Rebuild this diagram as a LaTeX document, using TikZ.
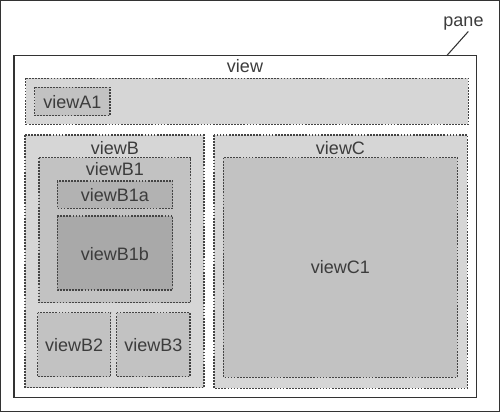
\documentclass[tikz,border=0pt]{standalone}
\usepackage{fontspec}
\setmainfont{Liberation Sans}
\definecolor{linegray}{HTML}{333333}
\definecolor{dashgray}{HTML}{444444}
\definecolor{textgray}{HTML}{3C3C3C}
\definecolor{shadeA}{HTML}{D6D6D6}
\definecolor{shadeB}{HTML}{C2C2C2}
\definecolor{shadeC}{HTML}{B2B2B2}
\definecolor{shadeD}{HTML}{A9A9A9}
\begin{document}
\begin{tikzpicture}[x=0.75pt,y=-0.75pt,
  box/.style={draw=dashgray, line width=0.8pt, dash pattern=on 1.3pt off 1pt},
  lbl/.style={text=textgray, font=\fontsize{13.5}{16}\selectfont, inner sep=0pt, anchor=base}]
\useasboundingbox (0,0) rectangle (500,412);

% frame and view
\draw[linegray, line width=1pt] (0.8,0.8) rectangle (499.2,411.2);
\draw[linegray, line width=1pt, fill=white] (14,55.7) rectangle (476.7,397.3);

% nested views
\foreach \xa/\ya/\xb/\yb/\c in {25.7/78.3/468.3/124.3/shadeA,
        34.7/87.3/110/115.7/shadeB,
        25/135/204/387.7/shadeA,
        39/157.7/190.7/302.7/shadeB,
        57.3/181/172.7/208.3/shadeC,
        57.3/216/172.7/290/shadeD,
        37.7/312.7/110.7/376.7/shadeB,
        116.7/312.7/190/376.7/shadeB,
        214/135/467.3/388.3/shadeA,
        223.3/157.7/457.3/377.3/shadeB} {
    \draw[box, fill=\c] (\xa,\ya) rectangle (\xb,\yb);
}

\node[lbl] (view) at (245,72.7) {view};
\node[lbl] (viewA1) at (72.3,108.3) {viewA1};
\node[lbl] (viewB) at (115,154.3) {viewB};
\node[lbl] (viewB1) at (115,175.7) {viewB1};
\node[lbl] (viewB1a) at (115,201.5) {viewB1a};
\node[lbl] (viewB1b) at (115,260) {viewB1b};
\node[lbl] (viewB2) at (74.2,351.7) {viewB2};
\node[lbl] (viewB3) at (153.3,351.7) {viewB3};
\node[lbl] (viewC) at (340.5,154.3) {viewC};
\node[lbl] (viewC1) at (340.3,273.3) {viewC1};

% pane pointer
\node[lbl] (pane) at (463.5,26.7) {pane};
\coordinate (panetip) at (468.3,31.5);
\coordinate (paneedge) at (446.7,55.7);
\draw[linegray, line width=0.8pt] (paneedge) -- (panetip);

\end{tikzpicture}
\end{document}
